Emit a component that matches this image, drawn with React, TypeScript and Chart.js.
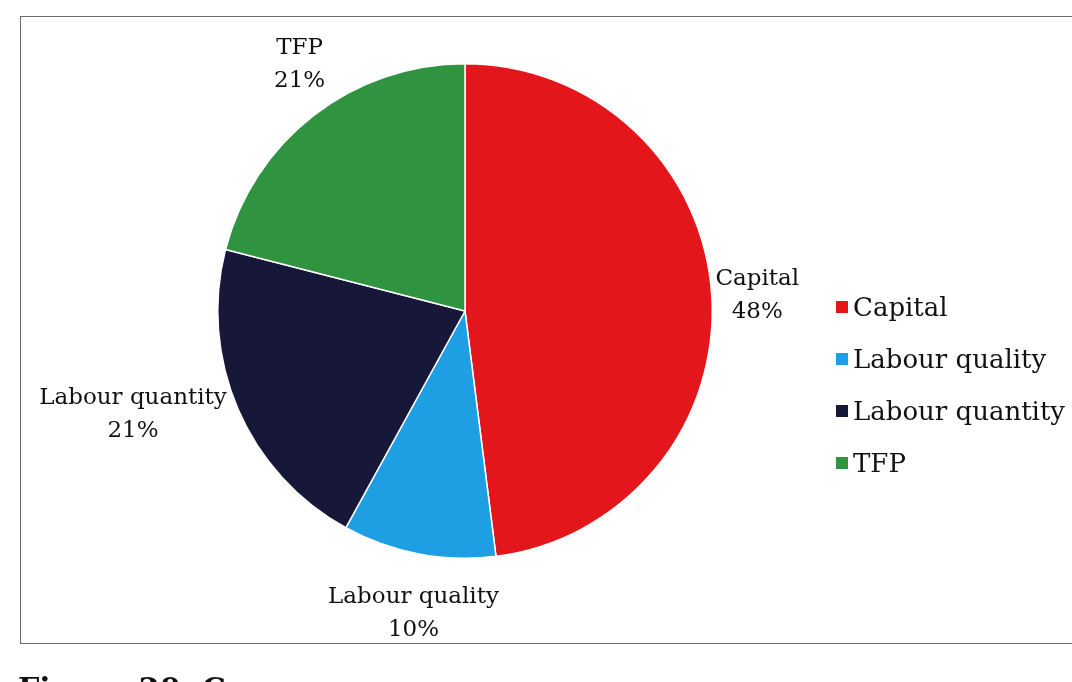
import React, { useEffect, useRef } from "react";
import { Chart, registerables } from "chart.js";

Chart.register(...registerables);

const categories = ["Capital", "Labour quality", "Labour quantity", "TFP"];
const shares = [48, 10, 21, 21];
const colors = ["#e3171b", "#1e9fe3", "#17173a", "#2f9340"];
const caption = "Figure 20: C";

const FONT = '"DejaVu Serif", "Liberation Serif", serif';

const outsideLabels = {
  id: "outsideLabels",
  afterDatasetsDraw(chart: any) {
    const ctx = chart.ctx;
    const meta = chart.getDatasetMeta(0);
    const data = chart.data.datasets[0].data as number[];
    const total = data.reduce((a: number, b: number) => a + b, 0);
    ctx.save();
    ctx.font = `23px ${FONT}`;
    ctx.fillStyle = "#111";
    ctx.textBaseline = "middle";
    const lh = 33;
    meta.data.forEach((arc: any, i: number) => {
      const p = arc.getProps(["x", "y", "startAngle", "endAngle", "outerRadius"], true);
      const mid = (p.startAngle + p.endAngle) / 2;
      const c = Math.cos(mid);
      const s = Math.sin(mid);
      const off = 2 + 26 * Math.abs(s);
      const px = p.x + c * (p.outerRadius + off);
      const py = p.y + s * (p.outerRadius + off);
      const lines = [chart.data.labels[i] as string, Math.round((data[i] / total) * 100) + "%"];
      const w0 = ctx.measureText(lines[0]).width;
      // centre of the text block
      let cx: number;
      if (c > 0.7) cx = px + w0 / 2;
      else if (c < -0.7) cx = px - w0 / 2;
      else cx = px;
      let top: number;
      if (s > 0.5) top = py;
      else if (s < -0.5) top = py - lh * lines.length;
      else top = py - (lh * lines.length) / 2;
      ctx.textAlign = "center";
      lines.forEach((t: string, k: number) => {
        ctx.fillText(t, cx, top + lh * k + lh / 2);
      });
    });
    ctx.restore();
  },
};

export default function App() {
  const ref = useRef<HTMLCanvasElement | null>(null);
  useEffect(() => {
    document.body.style.margin = "0";
    const chart = new Chart(ref.current!, {
      type: "pie",
      data: {
        labels: categories,
        datasets: [
          {
            data: shares,
            backgroundColor: colors,
            borderColor: "#ffffff",
            borderWidth: 1.5,
          },
        ],
      },
      options: {
        animation: false,
        responsive: false,
        rotation: 0,
        layout: { padding: { left: 217, right: 359, top: 63, bottom: 123 } },
        plugins: {
          legend: { display: false },
          tooltip: { enabled: false },
        },
      },
      plugins: [outsideLabels],
    });
    return () => chart.destroy();
  }, []);

  return (
    <div
      style={{
        position: "fixed",
        left: 0,
        top: 0,
        width: 1072,
        height: 682,
        background: "#ffffff",
        overflow: "hidden",
        fontFamily: FONT,
      }}
    >
      <div
        style={{
          position: "absolute",
          left: 20,
          top: 16,
          width: 1100,
          height: 628,
          border: "1.5px solid #6a6a6a",
          boxSizing: "border-box",
        }}
      />
      <canvas
        ref={ref}
        width={1072}
        height={682}
        style={{ position: "absolute", left: 0, top: 0, width: 1072, height: 682 }}
      />
      <div style={{ position: "absolute", left: 836, top: 281 }}>
        {categories.map((c, i) => (
          <div
            key={c}
            style={{
              display: "flex",
              alignItems: "center",
              height: 52,
              fontSize: 26,
              color: "#111",
              whiteSpace: "nowrap",
            }}
          >
            <span
              style={{
                display: "inline-block",
                width: 12,
                height: 12,
                background: colors[i],
                marginRight: 5,
              }}
            />
            {c}
          </div>
        ))}
      </div>
      <div
        style={{
          position: "absolute",
          left: 18,
          top: 672,
          fontSize: 30,
          fontWeight: "bold",
          color: "#111",
          lineHeight: "34px",
          whiteSpace: "nowrap",
        }}
      >
        {caption}
      </div>
    </div>
  );
}
